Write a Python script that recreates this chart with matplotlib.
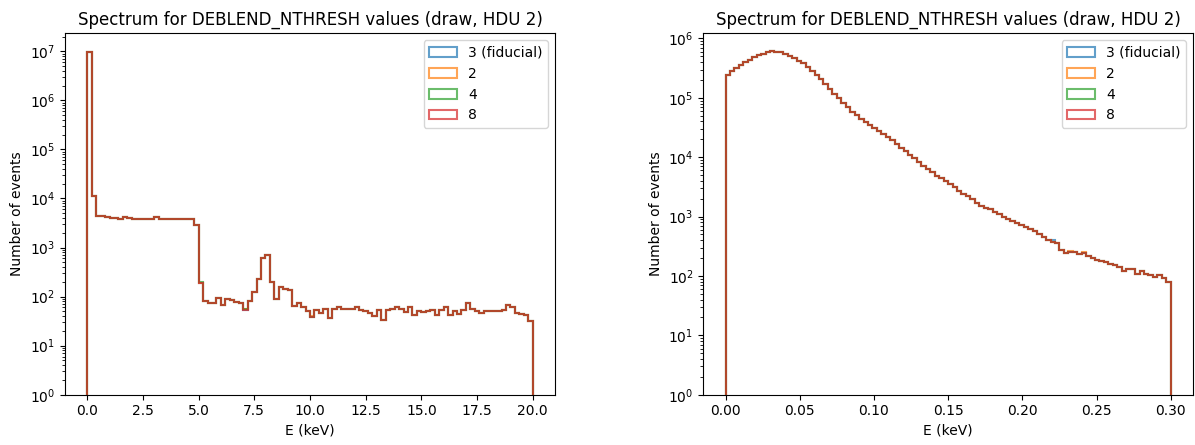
import numpy as np
import matplotlib
matplotlib.use("Agg")
import matplotlib.pyplot as plt

TITLE = "Spectrum for DEBLEND_NTHRESH values (draw, HDU 2)"
LABELS = ["3 (fiducial)", "2", "4", "8"]
COLORS = ["tab:blue", "tab:orange", "tab:green", "tab:red"]

# full range spectrum, 100 bins over 0-20 keV (counts per bin, series "3 (fiducial)")
counts_full = [
    9.5e6, 11000, 4400, 4300, 4200, 4000, 4000, 3800, 4100, 4000,
    3900, 3850, 3900, 3850, 3850, 4100, 3850, 3850, 3850, 3850,
    3850, 3850, 3850, 3850, 2900, 190, 81, 75, 75, 95,
    69, 88, 85, 76, 75, 53, 81, 126, 224, 613,
    695, 200, 88, 158, 144, 136, 65, 75, 60, 51,
    39, 53, 47, 57, 36, 57, 62, 57, 57, 57,
    62, 53, 51, 46, 40, 53, 34, 53, 55, 62,
    55, 49, 62, 42, 51, 49, 51, 53, 42, 53,
    60, 42, 51, 44, 53, 73, 57, 51, 46, 51,
    51, 51, 51, 53, 66, 60, 46, 44, 42, 32,
]
# small differences of the other thresholds: {bin: counts}
diff_full = {
    "2": {35: 57, 50: 41},
    "4": {25: 200, 35: 56},
    "8": {},
}

# low energy zoom, 100 bins over 0-0.3 keV
counts_low = [
    243000, 280000, 318000, 358000, 398000, 440000, 480000, 520000, 556000, 590000,
    608000, 603000, 585000, 555000, 515000, 470000, 425000, 380000, 335000, 288000,
    245000, 204000, 170000, 141000, 117500, 97700, 81300, 69200, 58900, 51300,
    44700, 39800, 35500, 31600, 27500, 24500, 21900, 19500, 17000, 14500,
    12600, 11000, 9550, 8320, 7240, 6310, 5620, 4900, 4470, 3980,
    3550, 3160, 2750, 2450, 2190, 1950, 1700, 1510, 1410, 1320,
    1200, 1100, 1000, 912, 851, 776, 724, 661, 617, 575,
    513, 447, 407, 380, 355, 275, 245, 257, 251, 234,
    245, 214, 200, 188, 178, 170, 158, 151, 141, 120,
    129, 129, 108, 120, 108, 105, 95, 105, 91, 79,
]
diff_low = {
    "2": {77: 262, 80: 250},
    "4": {8: 545000, 78: 255},
    "8": {},
}
diff_low_fid = {73: 400, 84: 182}


def series(base, diffs, lab, fid=None):
    c = np.array(base, dtype=float)
    d = fid if (lab == "3 (fiducial)" and fid) else diffs.get(lab, {})
    for k, v in d.items():
        c[k] = v
    return c


fig = plt.figure(figsize=(11.95, 4.45), dpi=100)
ax1 = fig.add_axes([0.0544, 0.1130, 0.4100, 0.8125])
ax2 = fig.add_axes([0.5885, 0.1130, 0.4098, 0.8125])

edges_full = np.linspace(0, 20, len(counts_full) + 1)
edges_low = np.linspace(0, 0.3, len(counts_low) + 1)
cen_full = 0.5 * (edges_full[1:] + edges_full[:-1])
cen_low = 0.5 * (edges_low[1:] + edges_low[:-1])

for lab, col in zip(LABELS, COLORS):
    ax1.hist(cen_full, bins=edges_full, weights=series(counts_full, diff_full, lab),
             histtype="step", color=col, alpha=0.7, lw=1.5, label=lab)
    ax2.hist(cen_low, bins=edges_low, weights=series(counts_low, diff_low, lab, diff_low_fid),
             histtype="step", color=col, alpha=0.7, lw=1.5, label=lab)

for ax, top in ((ax1, 10**7.37), (ax2, 10**6.09)):
    ax.set_yscale("log")
    ax.set_ylim(1, top)
    ax.set_title(TITLE, fontsize=12)
    ax.set_xlabel("E (keV)")
    ax.set_ylabel("Number of events")
    ax.legend(loc="upper right")

ax1.set_xlim(-1.0, 21.0)
ax1.set_xticks(np.arange(0, 20.1, 2.5))
ax2.set_xlim(-0.015, 0.315)

fig.savefig("out.png", dpi=100)
